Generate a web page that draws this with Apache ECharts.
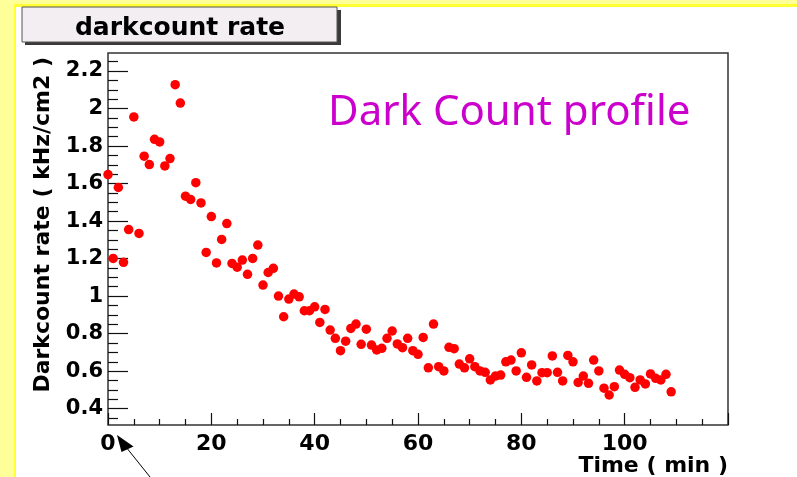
<!DOCTYPE html>
<html>
<head>
<meta charset="utf-8">
<title>darkcount rate</title>
<script src="https://cdn.jsdelivr.net/npm/echarts@6/dist/echarts.min.js"></script>
<style>
  html, body { margin: 0; padding: 0; background: #ffffff; }
  #chart { width: 797px; height: 477px; }
</style>
</head>
<body>
<div id="chart"></div>
<script>
// Dark count rate sampled once per minute after switch-on
const timeMin = [
  0, 1, 2, 3, 4, 5, 6, 7, 8, 9,
  10, 11, 12, 13, 14, 15, 16, 17, 18, 19,
  20, 21, 22, 23, 24, 25, 26, 27, 28, 29,
  30, 31, 32, 33, 34, 35, 36, 37, 38, 39,
  40, 41, 42, 43, 44, 45, 46, 47, 48, 49,
  50, 51, 52, 53, 54, 55, 56, 57, 58, 59,
  60, 61, 62, 63, 64, 65, 66, 67, 68, 69,
  70, 71, 72, 73, 74, 75, 76, 77, 78, 79,
  80, 81, 82, 83, 84, 85, 86, 87, 88, 89,
  90, 91, 92, 93, 94, 95, 96, 97, 98, 99,
  100, 101, 102, 103, 104, 105, 106, 107, 108, 109
];

// kHz/cm2
const rate = [
  1.648, 1.201, 1.579, 1.180, 1.355, 1.955, 1.334, 1.746, 1.701, 1.836,
  1.822, 1.694, 1.733, 2.127, 2.029, 1.533, 1.515, 1.605, 1.497, 1.233,
  1.424, 1.177, 1.302, 1.387, 1.174, 1.154, 1.192, 1.116, 1.201, 1.272,
  1.059, 1.126, 1.148, 1.000, 0.890, 0.984, 1.011, 0.996, 0.922, 0.922,
  0.943, 0.860, 0.929, 0.819, 0.775, 0.709, 0.760, 0.828, 0.851, 0.743,
  0.824, 0.739, 0.713, 0.722, 0.775, 0.814, 0.745, 0.725, 0.775, 0.709,
  0.690, 0.780, 0.618, 0.851, 0.624, 0.601, 0.727, 0.720, 0.638, 0.618,
  0.666, 0.624, 0.601, 0.594, 0.553, 0.574, 0.579, 0.650, 0.659, 0.601,
  0.698, 0.567, 0.633, 0.548, 0.592, 0.592, 0.681, 0.594, 0.548, 0.684,
  0.650, 0.540, 0.574, 0.535, 0.659, 0.601, 0.509, 0.473, 0.517, 0.606,
  0.583, 0.565, 0.514, 0.553, 0.532, 0.585, 0.562, 0.553, 0.583, 0.490
];

const yTickLabels = [0.4, 0.6, 0.8, 1, 1.2, 1.4, 1.6, 1.8, 2, 2.2];
const xTickLabels = [0, 20, 40, 60, 80, 100];

const chartTitle = 'darkcount rate';
const xTitle = 'Time ( min )';
const yTitle = 'Darkcount rate ( kHz/cm2 )';
const note = 'Dark Count profile';

// axis extents of the frame
const X_MIN = 0, X_MAX = 120;
const Y_MIN = 0.313, Y_MAX = 2.296;

// minor ticks every 0.05 between the labelled ones
const yMinorTicks = [];
for (let k = 7; k <= 45; k++) {
  if (k % 4 !== 0) yMinorTicks.push(k / 20);
}

const points = timeMin.map((t, i) => [t, rate[i]]);

const boldFont = { fontFamily: 'DejaVu Sans', fontWeight: 'bold', color: '#000' };
const tickLine = { color: '#111', width: 1.2 };

const chart = echarts.init(document.getElementById('chart'), null, { renderer: 'canvas' });

chart.setOption({
  backgroundColor: '#ffffff',
  animation: false,
  grid: {
    left: 108, right: 69, top: 53, bottom: 52,
    show: true,
    borderColor: '#333',
    borderWidth: 1.5,
    backgroundColor: 'transparent',
    outerBoundsMode: 'none'
  },
  xAxis: {
    type: 'value',
    min: X_MIN, max: X_MAX, interval: 20,
    axisLine: { show: false },
    axisTick: { show: true, inside: true, length: 12, lineStyle: tickLine },
    minorTick: { show: true, splitNumber: 4, length: 6, lineStyle: tickLine },
    splitLine: { show: false },
    minorSplitLine: { show: false },
    axisLabel: Object.assign({
      margin: 8, fontSize: 22,
      formatter: v => (xTickLabels.indexOf(v) >= 0 ? String(v) : '')
    }, boldFont)
  },
  yAxis: [
    {
      type: 'value',
      position: 'left',
      min: Y_MIN, max: Y_MAX,
      axisLine: { show: false },
      splitLine: { show: false },
      axisTick: { show: true, inside: true, length: 20, customValues: yTickLabels, lineStyle: tickLine },
      axisLabel: Object.assign({
        customValues: yTickLabels,
        margin: 5, fontSize: 21,
        formatter: v => String(Math.round(v * 10) / 10)
      }, boldFont)
    },
    {
      type: 'value',
      position: 'left',
      min: Y_MIN, max: Y_MAX,
      axisLine: { show: false },
      splitLine: { show: false },
      axisTick: { show: true, inside: true, length: 10, customValues: yMinorTicks, lineStyle: tickLine },
      axisLabel: { show: false }
    }
  ],
  series: [
    {
      type: 'scatter',
      xAxisIndex: 0,
      yAxisIndex: 0,
      data: points,
      symbol: 'circle',
      symbolSize: 9.5,
      itemStyle: { color: '#ff0000', opacity: 1 },
      z: 5
    }
  ],
  graphic: [
    // yellow slide border
    { type: 'rect', shape: { x: 0, y: 0, width: 14, height: 477 }, style: { fill: '#ffff99' }, z: 0 },
    { type: 'rect', shape: { x: 0, y: 0, width: 797, height: 4 }, style: { fill: '#ffff99' }, z: 0 },
    { type: 'rect', shape: { x: 14, y: 4, width: 2, height: 473 }, style: { fill: '#ffff33' }, z: 0 },
    { type: 'rect', shape: { x: 14, y: 4, width: 783, height: 3 }, style: { fill: '#ffff33' }, z: 0 },
    // title box with drop shadow
    { type: 'rect', shape: { x: 25, y: 10, width: 316, height: 35 }, style: { fill: '#3a3a3a' }, z: 1 },
    { type: 'rect', shape: { x: 22, y: 7, width: 315, height: 35 }, style: { fill: '#f2eef2', stroke: '#555', lineWidth: 1 }, z: 2 },
    {
      type: 'text', x: 180, y: 28, z: 3,
      style: {
        text: chartTitle, fill: '#000',
        font: 'bold 25px "DejaVu Sans"',
        textAlign: 'center', textVerticalAlign: 'middle'
      }
    },
    // axis titles
    {
      type: 'text', x: 43, y: 57, rotation: Math.PI / 2, z: 3,
      style: {
        text: yTitle, fill: '#000',
        font: 'bold 22px "DejaVu Sans"',
        textAlign: 'right', textVerticalAlign: 'middle'
      }
    },
    {
      type: 'text', x: 728, y: 466, z: 3,
      style: {
        text: xTitle, fill: '#000',
        font: 'bold 22px "DejaVu Sans"',
        textAlign: 'right', textVerticalAlign: 'middle'
      }
    },
    // annotation
    {
      type: 'text', x: 328, y: 113, z: 3,
      style: {
        text: note, fill: '#cc00cc',
        font: '42px "Noto Sans"',
        textAlign: 'left', textVerticalAlign: 'middle'
      }
    },
    // arrow pointing at the start of the run
    {
      type: 'line', z: 3,
      shape: { x1: 150, y1: 477, x2: 126, y2: 447 },
      style: { stroke: '#000', lineWidth: 1 }
    },
    {
      type: 'polygon', z: 3,
      shape: { points: [[117, 435], [121.5, 452], [133.5, 446.5]] },
      style: { fill: '#000' }
    }
  ]
});
</script>
</body>
</html>
